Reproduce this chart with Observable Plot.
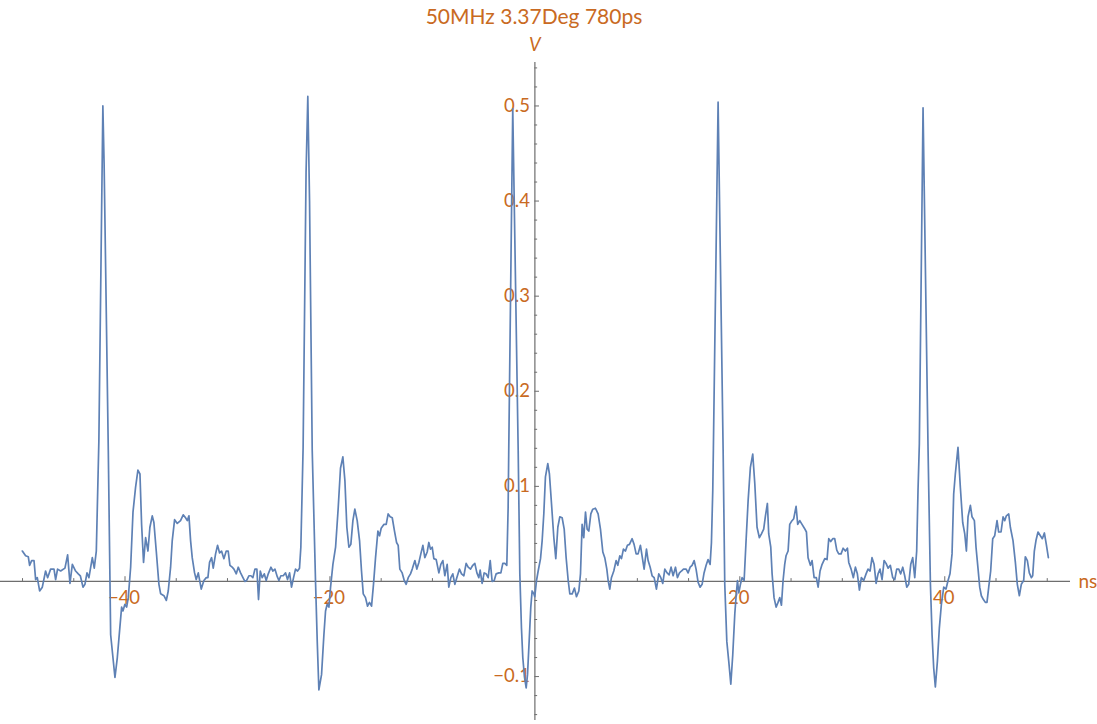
<!DOCTYPE html>
<html>
<head>
<meta charset="utf-8">
<script src="https://cdn.jsdelivr.net/npm/d3@7"></script>
<script src="https://cdn.jsdelivr.net/npm/@observablehq/plot@0.6"></script>
<style>
  body { margin: 0; background: #fff; }
  #wrap { position: relative; width: 1097px; height: 724px; }
  #title {
    position: absolute; top: 3px; left: 534px; transform: translateX(-50%);
    font-family: Lato, sans-serif; font-size: 21px; color: #c96a22; white-space: nowrap;
  }
  #chart svg { display: block; }
</style>
</head>
<body>
<div id="wrap">
  <div id="chart"></div>
  <div id="title">50MHz 3.37Deg 780ps</div>
</div>
<script>
// scope trace: [time ns, volts]
const trace = [
  [-50.02,0.032],[-49.70,0.027],[-49.44,0.026],[-49.31,0.017],[-49.11,0.022],[-48.88,0.022],[-48.72,0.002],[-48.56,0.004],
  [-48.33,-0.010],[-48.07,-0.006],[-47.75,0.011],[-47.55,0.004],[-47.26,0.013],[-46.93,0.013],[-46.77,0.002],[-46.58,0.013],
  [-46.28,0.011],[-45.86,0.014],[-45.60,0.028],[-45.37,-0.002],[-45.14,0.018],[-44.82,0.011],[-44.56,0.008],[-44.36,0.006],
  [-44.10,-0.006],[-43.91,-0.003],[-43.71,0.009],[-43.52,0.004],[-43.19,0.025],[-43.00,0.014],[-42.80,0.032],[-42.55,0.148],
  [-42.16,0.500],[-42.04,0.44],[-41.63,0.138],[-41.40,-0.056],[-40.98,-0.101],[-40.75,-0.080],[-40.53,-0.052],[-40.33,-0.027],
  [-40.20,-0.031],[-40.01,-0.024],[-39.84,-0.027],[-39.68,-0.017],[-39.45,0.015],[-39.22,0.073],[-38.97,0.099],[-38.74,0.117],
  [-38.54,0.113],[-38.38,0.060],[-38.19,0.020],[-37.99,0.046],[-37.76,0.032],[-37.57,0.057],[-37.34,0.069],[-37.18,0.062],
  [-36.95,0.032],[-36.69,-0.003],[-36.52,-0.013],[-36.20,-0.015],[-35.97,-0.020],[-35.78,-0.010],[-35.55,0.015],[-35.39,0.043],
  [-35.16,0.065],[-34.90,0.061],[-34.58,0.064],[-34.32,0.070],[-34.09,0.067],[-33.92,0.064],[-33.76,0.069],[-33.60,0.043],
  [-33.44,0.025],[-33.21,0.009],[-33.05,0.002],[-32.85,0.009],[-32.56,-0.008],[-32.30,0.001],[-32.07,0.004],[-31.91,0.004],
  [-31.75,0.020],[-31.55,0.025],[-31.39,0.014],[-31.16,0.029],[-30.97,0.038],[-30.77,0.030],[-30.58,0.032],[-30.35,0.024],
  [-30.12,0.032],[-29.93,0.032],[-29.76,0.017],[-29.54,0.015],[-29.37,0.013],[-29.14,0.008],[-28.95,0.015],[-28.72,0.009],
  [-28.49,0.004],[-28.30,0.000],[-28.14,0.001],[-27.91,0.006],[-27.71,0.006],[-27.52,0.004],[-27.32,0.013],[-27.13,0.013],
  [-26.97,-0.019],[-26.80,0.011],[-26.61,0.004],[-26.41,0.008],[-26.22,0.001],[-26.02,0.008],[-25.76,0.015],[-25.57,0.011],
  [-25.37,0.013],[-25.14,0.005],[-24.98,0.001],[-24.79,0.006],[-24.56,0.006],[-24.33,0.009],[-24.14,0.002],[-23.94,0.009],
  [-23.75,-0.006],[-23.55,0.004],[-23.36,0.013],[-23.16,0.011],[-22.97,0.014],[-22.84,0.036],[-22.62,0.14],[-22.33,0.43],
  [-22.16,0.510],[-21.99,0.40],[-21.73,0.138],[-21.40,-0.003],[-21.24,-0.063],[-21.08,-0.114],[-20.82,-0.098],[-20.59,-0.056],
  [-20.43,-0.031],[-20.27,-0.024],[-20.10,-0.027],[-19.94,-0.006],[-19.71,0.018],[-19.45,0.036],[-19.19,0.078],[-18.97,0.119],
  [-18.74,0.131],[-18.54,0.106],[-18.35,0.057],[-18.15,0.036],[-17.96,0.039],[-17.76,0.064],[-17.57,0.076],[-17.34,0.064],
  [-17.11,0.043],[-16.92,0.011],[-16.75,-0.013],[-16.53,-0.017],[-16.33,-0.026],[-16.14,-0.022],[-15.94,-0.026],[-15.75,-0.003],
  [-15.55,0.025],[-15.32,0.053],[-15.16,0.048],[-15.00,0.056],[-14.74,0.060],[-14.51,0.060],[-14.32,0.071],[-14.12,0.068],
  [-13.92,0.067],[-13.70,0.053],[-13.50,0.041],[-13.34,0.038],[-13.18,0.013],[-12.95,0.009],[-12.75,0.001],[-12.56,-0.003],
  [-12.36,0.004],[-12.14,0.008],[-11.97,0.013],[-11.71,0.022],[-11.52,0.013],[-11.32,0.020],[-11.13,0.029],[-10.93,0.038],
  [-10.74,0.025],[-10.51,0.031],[-10.35,0.041],[-10.19,0.034],[-10.02,0.036],[-9.86,0.024],[-9.63,0.023],[-9.37,0.009],
  [-9.18,0.018],[-8.98,0.022],[-8.79,0.006],[-8.56,0.018],[-8.40,-0.006],[-8.20,0.004],[-8.01,0.008],[-7.81,-0.003],
  [-7.62,0.004],[-7.36,0.013],[-7.16,0.008],[-6.93,0.006],[-6.71,0.019],[-6.51,0.015],[-6.28,0.013],[-6.06,0.017],
  [-5.86,0.019],[-5.66,0.009],[-5.47,0.004],[-5.34,0.012],[-5.15,-0.002],[-4.95,0.009],[-4.76,0.008],[-4.56,0.004],
  [-4.36,0.022],[-4.17,0.000],[-3.97,0.001],[-3.78,0.008],[-3.52,0.009],[-3.32,0.009],[-3.13,0.019],[-2.93,0.019],
  [-2.74,0.017],[-2.61,0.078],[-2.55,0.138],[-2.16,0.497],[-1.63,0.138],[-1.47,0.008],[-1.31,-0.049],[-1.18,-0.080],
  [-1.02,-0.100],[-0.85,-0.112],[-0.72,-0.098],[-0.56,-0.063],[-0.40,-0.027],[-0.27,-0.010],[-0.10,-0.013],[-0.01,-0.016],
  [0.16,0.001],[0.32,0.011],[0.55,0.024],[0.71,0.043],[0.87,0.071],[1.03,0.110],[1.26,0.124],[1.42,0.113],
  [1.62,0.082],[1.85,0.046],[2.04,0.024],[2.24,0.057],[2.43,0.068],[2.66,0.067],[2.86,0.055],[3.05,0.025],
  [3.25,0.001],[3.41,-0.013],[3.64,-0.013],[3.86,-0.007],[4.06,-0.016],[4.29,-0.010],[4.45,0.008],[4.61,0.060],
  [4.77,0.046],[4.94,0.073],[5.10,0.055],[5.26,0.053],[5.46,0.071],[5.65,0.076],[5.91,0.077],[6.17,0.071],
  [6.40,0.055],[6.63,0.031],[6.82,0.025],[7.02,0.013],[7.15,0.001],[7.31,-0.008],[7.47,0.004],[7.70,0.011],
  [7.93,0.022],[8.09,0.017],[8.29,0.027],[8.45,0.024],[8.64,0.034],[8.84,0.032],[9.03,0.038],[9.23,0.039],
  [9.49,0.045],[9.68,0.039],[9.88,0.029],[10.07,0.029],[10.30,0.038],[10.46,0.027],[10.66,0.013],[10.89,0.034],
  [11.05,0.022],[11.25,0.015],[11.44,0.006],[11.64,0.004],[11.86,-0.008],[12.09,0.008],[12.29,0.004],[12.48,-0.002],
  [12.68,0.013],[12.90,0.009],[13.10,0.007],[13.29,0.015],[13.49,0.006],[13.72,0.015],[13.91,0.004],[14.11,0.009],
  [14.30,0.011],[14.50,0.013],[14.76,0.013],[14.95,0.009],[15.15,0.015],[15.34,0.017],[15.54,0.022],[15.73,0.013],
  [15.93,-0.001],[16.12,-0.006],[16.32,-0.003],[16.51,0.009],[16.71,0.017],[16.90,0.023],[17.10,0.018],[17.23,0.041],
  [17.36,0.096],[17.42,0.14],[17.88,0.504],[18.37,0.138],[18.53,-0.003],[18.73,-0.063],[18.92,-0.084],[19.12,-0.108],
  [19.31,-0.077],[19.51,-0.034],[19.64,-0.015],[19.77,0.001],[19.90,-0.012],[20.06,-0.003],[20.22,0.004],[20.42,0.001],
  [20.61,0.043],[20.81,0.085],[21.03,0.120],[21.26,0.134],[21.46,0.103],[21.68,0.057],[21.91,0.046],[22.11,0.050],
  [22.33,0.055],[22.50,0.069],[22.69,0.082],[22.82,0.050],[23.02,0.036],[23.15,0.008],[23.34,-0.017],[23.54,-0.027],
  [23.73,-0.022],[23.90,-0.017],[24.06,-0.025],[24.22,0.001],[24.38,0.018],[24.51,0.027],[24.71,0.032],[24.87,0.060],
  [25.03,0.063],[25.26,0.066],[25.49,0.079],[25.65,0.060],[25.85,0.064],[26.07,0.060],[26.30,0.056],[26.50,0.052],
  [26.66,0.025],[26.89,0.017],[27.05,0.022],[27.25,0.004],[27.47,0.004],[27.64,-0.006],[27.83,0.011],[28.03,0.018],
  [28.29,0.024],[28.51,0.023],[28.68,0.045],[28.87,0.042],[29.07,0.045],[29.26,0.045],[29.46,0.033],[29.65,0.029],
  [29.88,0.029],[30.08,0.035],[30.30,0.032],[30.50,0.035],[30.63,0.020],[30.86,0.013],[31.08,0.004],[31.28,0.015],
  [31.47,0.008],[31.67,-0.009],[31.86,0.004],[32.09,0.001],[32.32,0.008],[32.51,0.013],[32.71,0.011],[32.90,0.025],
  [33.10,0.018],[33.30,-0.002],[33.49,0.008],[33.68,0.013],[33.88,0.002],[34.08,0.022],[34.27,0.019],[34.47,0.014],
  [34.69,0.017],[34.92,0.004],[35.12,0.002],[35.31,0.013],[35.51,0.013],[35.70,0.008],[35.90,0.015],[36.09,0.006],
  [36.29,-0.006],[36.48,-0.003],[36.68,0.018],[36.87,0.025],[37.07,0.004],[37.26,0.032],[37.39,0.096],[37.52,0.145],
  [37.88,0.498],[38.37,0.138],[38.60,-0.003],[38.76,-0.056],[38.92,-0.091],[39.08,-0.111],[39.28,-0.084],[39.47,-0.049],
  [39.67,-0.024],[39.90,-0.006],[40.12,-0.008],[40.32,0.001],[40.51,0.008],[40.71,0.029],[40.87,0.092],[41.03,0.113],
  [41.29,0.141],[41.52,0.099],[41.75,0.062],[41.95,0.050],[42.11,0.032],[42.27,0.068],[42.50,0.080],[42.66,0.068],
  [42.89,0.064],[43.05,0.036],[43.25,0.013],[43.41,-0.006],[43.57,-0.015],[43.77,-0.019],[43.96,-0.022],[44.12,-0.022],
  [44.29,-0.006],[44.48,0.011],[44.68,0.045],[44.87,0.048],[45.10,0.064],[45.26,0.052],[45.49,0.052],[45.69,0.068],
  [45.85,0.064],[46.01,0.069],[46.24,0.071],[46.40,0.057],[46.66,0.043],[46.89,0.020],[47.08,-0.003],[47.28,-0.015],
  [47.47,-0.003],[47.70,0.001],[47.86,0.026],[48.06,0.022],[48.25,0.009],[48.45,0.004],[48.58,0.006],[48.74,0.032],
  [48.90,0.043],[49.10,0.052],[49.33,0.048],[49.52,0.045],[49.72,0.051],[49.91,0.039],[50.11,0.025]
];

const xMajor = [-40, -20, 20, 40];
const xMinor = [-50, -45, -35, -30, -25, -15, -10, -5, 5, 10, 15, 25, 30, 35, 45, 50];
const yMajor = [-0.1, 0.1, 0.2, 0.3, 0.4, 0.5];
const yMinor = [-0.14, -0.12, -0.08, -0.06, -0.04, -0.02, 0.02, 0.04, 0.06, 0.08,
                0.12, 0.14, 0.16, 0.18, 0.22, 0.24, 0.26, 0.28, 0.32, 0.34, 0.36, 0.38,
                0.42, 0.44, 0.46, 0.48, 0.52, 0.54];
const xLabel = "ns";
const yLabel = "V";

const orange = "#c96a22";
const axisGrey = "#6e6e6e";
const fmt = d => (d < 0 ? "\u2212" : "") + Math.abs(d);

const chart = Plot.plot({
  width: 1097, height: 724,
  marginLeft: 0, marginRight: 27, marginTop: 62, marginBottom: 4,
  x: { domain: [-52.15, 52.27], axis: null },
  y: { domain: [-0.1462, 0.5457], axis: null },
  style: { fontFamily: "Lato, sans-serif", background: "white", overflow: "visible" },
  marks: [
    Plot.ruleY([0], { stroke: axisGrey, strokeWidth: 1.2 }),
    Plot.ruleX([0], { stroke: axisGrey, strokeWidth: 1.2 }),
    Plot.ruleX(xMajor, { x: d => d, y1: 0, y2: 0.005, stroke: axisGrey }),
    Plot.ruleX(xMinor, { x: d => d, y1: 0, y2: 0.003, stroke: axisGrey }),
    Plot.ruleY(yMajor, { y: d => d, x1: 0, x2: 0.45, stroke: axisGrey }),
    Plot.ruleY(yMinor, { y: d => d, x1: 0, x2: 0.27, stroke: axisGrey }),
    Plot.text(xMajor, { x: d => d, y: 0, text: fmt, dy: 17, dx: -1, fill: orange, fontSize: 18.5 }),
    Plot.text(yMajor, { x: 0, y: d => d, text: fmt, dx: -5, textAnchor: "end", fill: orange, fontSize: 18.5 }),
    Plot.text([xLabel], { x: 52.27, y: 0, text: d => d, dx: 8, textAnchor: "start", fill: orange, fontSize: 19 }),
    Plot.text([yLabel], { x: 0, y: 0.5457, text: d => d, dy: -17, fill: orange, fontSize: 18.5, fontStyle: "italic" }),
    Plot.line(trace, { x: d => d[0], y: d => d[1], stroke: "#5e81b5", strokeWidth: 1.7, strokeLinejoin: "round" })
  ]
});
document.getElementById("chart").appendChild(chart);
</script>
</body>
</html>
